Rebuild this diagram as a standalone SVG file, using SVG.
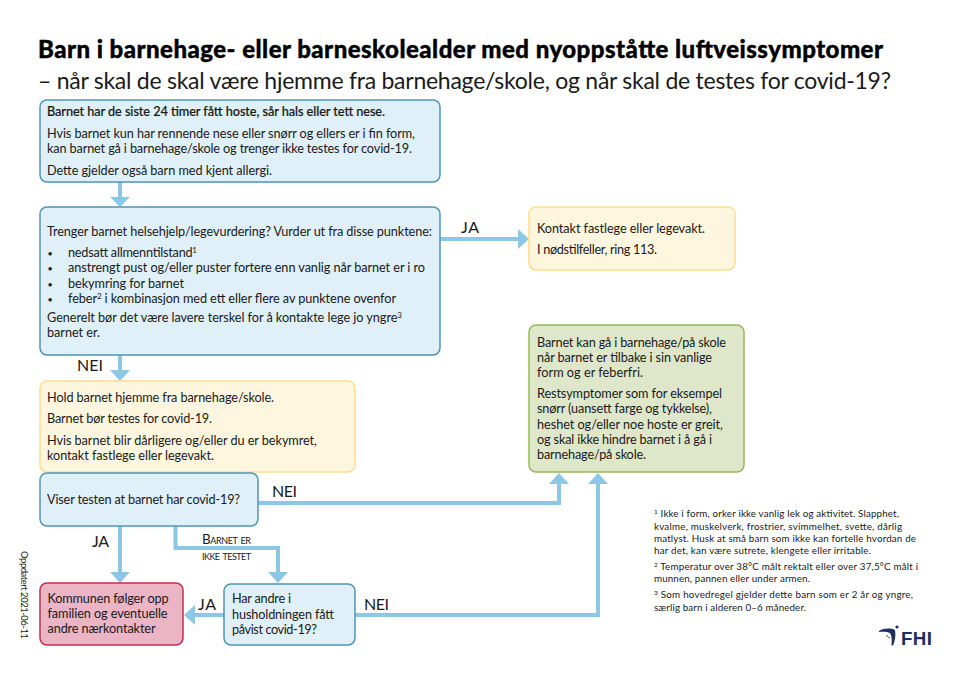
<svg xmlns="http://www.w3.org/2000/svg" width="970" height="685" viewBox="0 0 970 685">
<style>
text{font-family:"Lato","Noto Sans",sans-serif;fill:#1a1a1a;font-size:12.700px}
.title{font-size:24px;font-weight:900;fill:#000;stroke:#000;stroke-width:.4}
.sub{font-size:23px;fill:#1a1a1a}
.lab{font-size:16px}
.sc{font-size:13.500px;font-variant:small-caps}
.fn{font-size:9.800px}
.upd{font-size:9.500px}
.bul{font-size:9px}
.lead{font-weight:500;stroke:#1a1a1a;stroke-width:.2}
.blue{fill:#dff0f8;stroke:#4f94b8;stroke-width:1.500}
.yel{fill:#fff6df;stroke:#fedd90;stroke-width:1.500}
.grn{fill:#dfe7cb;stroke:#95b95a;stroke-width:1.500}
.red{fill:#ebb5c6;stroke:#c32c50;stroke-width:1.500}
.ln{fill:none;stroke:#8cc8e6;stroke-width:4}
.hd{fill:#8cc8e6}
</style>
<rect width="970" height="685" fill="#fff"/>
<g id="heading">
<text class="title" x="38" y="58" textLength="845">Barn i barnehage- eller barneskolealder med nyoppståtte luftveissymptomer</text>
<text class="sub" x="38" y="89" textLength="853">– når skal de skal være hjemme fra barnehage/skole, og når skal de testes for covid-19?</text>
</g>
<g id="connectors">
<path class="ln" d="M120 182V197"/><path class="hd" d="M110 197H130L120 207Z"/>
<path class="ln" d="M440 239H519"/><path class="hd" d="M518 229V249L529 239Z"/>
<path class="ln" d="M120 355V371"/><path class="hd" d="M110 370H130L120 381Z"/>
<path class="ln" d="M258 503H559V483"/><path class="hd" d="M549 484H569L559 473Z"/>
<path class="ln" d="M355 615H598V483"/><path class="hd" d="M588 484H608L598 473Z"/>
<path class="ln" d="M120 526V573"/><path class="hd" d="M110 572H130L120 583Z"/>
<path class="ln" d="M175.500 526V548H278V573"/><path class="hd" d="M268 572H288L278 583Z"/>
<path class="ln" d="M224 615H194"/><path class="hd" d="M195 605V625L184 615Z"/>
<text class="lab" x="461" y="233" textLength="18">JA</text>
<text class="lab" x="77" y="371" textLength="26">NEI</text>
<text class="lab" x="272" y="497" textLength="25">NEI</text>
<text class="lab" x="92" y="547" textLength="17">JA</text>
<text class="lab" x="198" y="610" textLength="18">JA</text>
<text class="lab" x="364" y="610" textLength="25">NEI</text>
<text class="sc" x="202" y="544" textLength="49">Barnet er</text>
<text class="sc" x="202" y="560" textLength="49">ikke testet</text>
</g>
<g id="node-symptoms">
<rect class="blue" x="40" y="100" width="400" height="82" rx="7"/>
<text class="lead" x="47" y="116" textLength="338">Barnet har de siste 24 timer fått hoste, sår hals eller tett nese.</text>
<text x="47" y="138" textLength="368">Hvis barnet kun har rennende nese eller snørr og ellers er i fin form,</text>
<text x="47" y="153" textLength="365">kan barnet gå i barnehage/skole og trenger ikke testes for covid-19.</text>
<text x="47" y="175" textLength="225">Dette gjelder også barn med kjent allergi.</text>
</g>
<g id="node-assess">
<rect class="blue" x="40" y="207" width="400" height="148" rx="7"/>
<text x="47" y="236" textLength="385">Trenger barnet helsehjelp/legevurdering? Vurder ut fra disse punktene:</text>
<text class="bul" x="47.500" y="257">•</text><text x="68" y="257" textLength="129">nedsatt allmenntilstand<tspan font-size="8" dy="-4">1</tspan></text>
<text class="bul" x="47.500" y="272">•</text><text x="68" y="272" textLength="357">anstrengt pust og/eller puster fortere enn vanlig når barnet er i ro</text>
<text class="bul" x="47.500" y="288">•</text><text x="68" y="288" textLength="116">bekymring for barnet</text>
<text class="bul" x="47.500" y="303">•</text><text x="68" y="303" textLength="328">feber<tspan font-size="8" dy="-4">2</tspan><tspan dy="4"> i kombinasjon med ett eller flere av punktene ovenfor</tspan></text>
<text x="47" y="322" textLength="355">Generelt bør det være lavere terskel for å kontakte lege jo yngre<tspan font-size="8" dy="-4">3</tspan></text>
<text x="47" y="337" textLength="53">barnet er.</text>
</g>
<g id="node-home">
<rect class="yel" x="40" y="381" width="315" height="91" rx="7"/>
<text x="47" y="402" textLength="227">Hold barnet hjemme fra barnehage/skole.</text>
<text x="47" y="423" textLength="165">Barnet bør testes for covid-19.</text>
<text x="47" y="445" textLength="270">Hvis barnet blir dårligere og/eller du er bekymret,</text>
<text x="47" y="460" textLength="167">kontakt fastlege eller legevakt.</text>
</g>
<g id="node-test">
<rect class="blue" x="40" y="473" width="218" height="53" rx="7"/>
<text x="47" y="504" textLength="193">Viser testen at barnet har covid-19?</text>
</g>
<g id="node-municipality">
<rect class="red" x="40" y="583" width="143" height="62" rx="7"/>
<text x="47.500" y="603" textLength="121">Kommunen følger opp</text>
<text x="47.500" y="618" textLength="120">familien og eventuelle</text>
<text x="47.500" y="633" textLength="108">andre nærkontakter</text>
</g>
<g id="node-household">
<rect class="blue" x="224" y="584" width="131" height="61" rx="7"/>
<text x="232" y="603" textLength="59">Har andre i</text>
<text x="232" y="619" textLength="102">husholdningen fått</text>
<text x="232" y="634" textLength="85">påvist covid-19?</text>
</g>
<g id="node-contact">
<rect class="yel" x="529" y="207" width="206" height="63" rx="7"/>
<text x="537" y="233" textLength="168">Kontakt fastlege eller legevakt.</text>
<text x="537" y="254" textLength="120">I nødstilfeller, ring 113.</text>
</g>
<g id="node-return">
<rect class="grn" x="529" y="325" width="215" height="147" rx="7"/>
<text x="537" y="347" textLength="189">Barnet kan gå i barnehage/på skole</text>
<text x="537" y="362" textLength="175">når barnet er tilbake i sin vanlige</text>
<text x="537" y="377" textLength="106">form og er feberfri.</text>
<text x="537" y="398" textLength="185">Restsymptomer som for eksempel</text>
<text x="537" y="413" textLength="175">snørr (uansett farge og tykkelse),</text>
<text x="537" y="429" textLength="186">heshet og/eller noe hoste er greit,</text>
<text x="537" y="444" textLength="175">og skal ikke hindre barnet i å gå i</text>
<text x="537" y="459" textLength="109">barnehage/på skole.</text>
</g>
<g id="footnotes">
<text class="fn" x="654" y="517" textLength="245"><tspan font-size="6.500" dy="-3">1</tspan><tspan dy="3"> Ikke i form, orker ikke vanlig lek og aktivitet. Slapphet,</tspan></text>
<text class="fn" x="654" y="530" textLength="248">kvalme, muskelverk, frostrier, svimmelhet, svette, dårlig</text>
<text class="fn" x="654" y="542" textLength="262">matlyst. Husk at små barn som ikke kan fortelle hvordan de</text>
<text class="fn" x="654" y="554" textLength="217">har det, kan være sutrete, klengete eller irritable.</text>
<text class="fn" x="654" y="570" textLength="264"><tspan font-size="6.500" dy="-3">2</tspan><tspan dy="3"> Temperatur over 38°C målt rektalt eller over 37,5°C målt i</tspan></text>
<text class="fn" x="654" y="582" textLength="156">munnen, pannen eller under armen.</text>
<text class="fn" x="654" y="598" textLength="259"><tspan font-size="6.500" dy="-3">3</tspan><tspan dy="3"> Som hovedregel gjelder dette barn som er 2 år og yngre,</tspan></text>
<text class="fn" x="654" y="611" textLength="152">særlig barn i alderen 0–6 måneder.</text>
</g>
<g id="updated"><text class="upd" transform="translate(21 551) rotate(90)" textLength="88">Oppdatert 2021-06-11</text></g>
<g id="logo">
<path fill="#1c2f5e" d="M879 631C884 628 891 628 895 630C896 635 895 641 893 645.500L891.500 645.500C892 641 892 636 890 633C887 631.500 883 631.500 879 632Z"/>
<circle cx="897" cy="627" r="1.600" fill="#1c2f5e"/>
<circle cx="887" cy="636" r=".8" fill="#1c2f5e"/>
<circle cx="889" cy="637.500" r=".7" fill="#1c2f5e"/>
<text x="901" y="645" textLength="31" style="font-family:'Liberation Sans',sans-serif;font-size:18.800px;fill:#1c2f5e;font-weight:700">FHI</text>
</g>
</svg>
